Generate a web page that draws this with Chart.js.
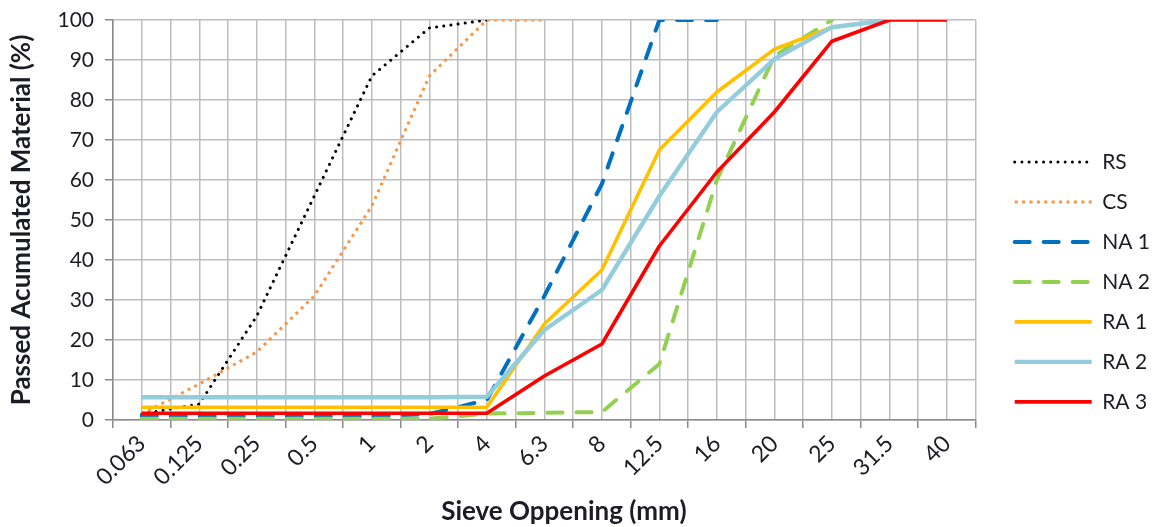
<!DOCTYPE html>
<html>
<head>
<meta charset="utf-8">
<script src="https://cdn.jsdelivr.net/npm/chart.js@4.4.1/dist/chart.umd.min.js"></script>
<style>
  html, body { margin: 0; padding: 0; background: #ffffff; }
  #wrap { width: 1168px; height: 527px; }
</style>
</head>
<body>
<div id="wrap"><canvas id="chart" width="1168" height="527"></canvas></div>
<script>
// Sieve openings (mm)
const sieveSizes = ['0.063', '0.125', '0.25', '0.5', '1', '2', '4', '6.3', '8', '12.5', '16', '20', '25', '31.5', '40'];

// Passed accumulated material (%) per sieve
const rs  = [1.5, 4, 26, 56, 86, 98, 100, null, null, null, null, null, null, null, null];
const cs  = [1.5, 9, 17, 31, 53.5, 86, 100, 100, null, null, null, null, null, null, null];
const na1 = [1, 1, 1, 1, 1, 1.5, 5, 31, 59, 100, 100, null, null, null, null];
const na2 = [0.3, 0.3, 0.3, 0.3, 0.3, 0.3, 1.6, 1.8, 2, 14, 60, 91, 100, null, null];
const ra1 = [3.2, 3.2, 3.2, 3.2, 3.2, 3.2, 3.2, 24, 37.5, 67.5, 82, 92.7, 98.2, 100, null];
const ra2 = [5.7, 5.7, 5.7, 5.7, 5.7, 5.7, 5.8, 22.5, 32.5, 56, 77, 90.2, 98.2, 100, null];
const ra3 = [1.7, 1.7, 1.7, 1.7, 1.7, 1.7, 1.7, 11, 19, 43.5, 62, 77, 94.7, 100, 100];

const textColor = '#1c1c26';
const gridColor = '#bdbdbd';
const axisColor = '#8a8a8a';
const fontFamily = 'Lato, "Open Sans", sans-serif';

function series(label, data, color, width, dash, cap, order) {
  return {
    label, data,
    borderColor: color,
    backgroundColor: color,
    borderWidth: width,
    borderDash: dash,
    borderCapStyle: cap,
    borderJoinStyle: 'round',
    pointRadius: 0,
    pointHoverRadius: 0,
    fill: false,
    tension: 0,
    spanGaps: false,
    order
  };
}

// Legend samples carry each series' own dash pattern and cap
function legendItems(chart) {
  return Chart.defaults.plugins.legend.labels.generateLabels(chart).map(item => {
    const ds = chart.data.datasets[item.datasetIndex];
    item.lineDash = ds.borderDash;
    item.lineCap = ds.borderCapStyle;
    item.lineWidth = ds.borderWidth;
    item.strokeStyle = ds.borderColor;
    return item;
  });
}

new Chart(document.getElementById('chart'), {
  type: 'line',
  data: {
    labels: sieveSizes,
    datasets: [
      series('RS',   rs,  '#000000', 3, [0.01, 7.2], 'round', 7),
      series('CS',   cs,  '#f79646', 3, [3, 4.4], 'butt', 6),
      series('NA 1', na1, '#0070c0', 4, [15, 14], 'round', 5),
      series('NA 2', na2, '#92d050', 4, [15, 14], 'round', 4),
      series('RA 1', ra1, '#ffc000', 3.6, [], 'butt', 3),
      series('RA 2', ra2, '#93cddd', 4.4, [], 'butt', 2),
      series('RA 3', ra3, '#ff0000', 3.6, [], 'butt', 1)
    ]
  },
  options: {
    responsive: false,
    devicePixelRatio: 1,
    animation: false,
    events: [],
    layout: { padding: { top: 20, left: 6, right: 8, bottom: 0 } },
    scales: {
      x: {
        type: 'category',
        offset: true,
        grid: { offset: true, color: gridColor, lineWidth: 1.5, tickLength: 8, tickColor: axisColor },
        border: { color: axisColor, width: 1.5 },
        ticks: {
          autoSkip: false, maxRotation: 45, minRotation: 45,
          color: textColor, padding: 2, labelOffset: 0,
          font: { family: fontFamily, size: 23 }
        },
        title: {
          display: true, text: '\u2003\u2003Sieve Oppening (mm)', color: textColor,
          font: { family: fontFamily, size: 26, weight: 'bold' },
          padding: { top: 0, bottom: 0 }
        },
        afterFit: s => { s.height = 107; }
      },
      xMid: {
        type: 'category',
        position: 'top',
        offset: true,
        grid: { offset: false, color: gridColor, lineWidth: 1.5, drawTicks: false },
        border: { display: false },
        ticks: { display: false },
        afterFit: s => { s.height = 0; }
      },
      y: {
        min: 0, max: 100,
        grid: { color: gridColor, lineWidth: 1.5, tickLength: 8, tickColor: axisColor },
        border: { color: axisColor, width: 1.5 },
        ticks: { stepSize: 10, color: textColor, padding: 11, font: { family: fontFamily, size: 21 } },
        title: {
          display: true, text: 'Passed Acumulated Material (%)', color: textColor,
          font: { family: fontFamily, size: 26, weight: 'bold' },
          padding: { top: 0, bottom: 0 }
        },
        afterFit: s => { s.width = 107; s.paddingTop = 0; s.paddingBottom = 0; }
      },
      ySpace: {
        position: 'right',
        grid: { display: false },
        border: { display: false },
        ticks: { display: false },
        afterFit: s => { s.width = 20; s.paddingTop = 0; s.paddingBottom = 0; }
      }
    },
    plugins: {
      tooltip: { enabled: false },
      legend: {
        position: 'right',
        align: 'start',
        title: { display: true, text: ' ', padding: { top: 98, bottom: 0 } },
        labels: {
          usePointStyle: true,
          pointStyle: 'line',
          pointStyleWidth: 77,
          padding: 19,
          color: textColor,
          font: { family: fontFamily, size: 21 },
          generateLabels: legendItems,
          sort: (a, b) => a.datasetIndex - b.datasetIndex
        }
      }
    }
  }
});
</script>
</body>
</html>
